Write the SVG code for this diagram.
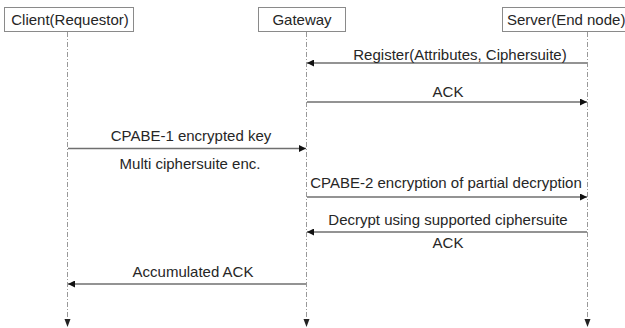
<svg xmlns="http://www.w3.org/2000/svg" width="625" height="328" viewBox="0 0 625 328">
<defs>
<style>
.box{fill:#fff;stroke:#8a8a8a;stroke-width:1}
.lbl{font-family:"Liberation Sans",Arial,sans-serif;font-size:15px;fill:#262626}
.life{stroke:#999;stroke-width:1;stroke-dasharray:5,2,1,2;fill:none}
.msg{stroke:#6f6f6f;stroke-width:1.5;fill:none}
.end{fill:#222}
</style>
<marker id="ah" viewBox="0 0 10 10" refX="10" refY="5" markerWidth="9" markerHeight="7" markerUnits="userSpaceOnUse" orient="auto">
<path d="M0,0 L10,5 L0,10 z" fill="#111"/>
</marker>
</defs>
<rect width="625" height="328" fill="#fff"/>
<g id="client">
<rect class="box" x="4.5" y="7.5" width="129" height="24"/>
<text class="lbl" x="70" y="25" text-anchor="middle">Client(Requestor)</text>
<line class="life" x1="67.5" y1="32" x2="67.5" y2="318"/>
<path class="end" d="M64.5,319 L70.5,319 L67.5,327 z"/>
</g>
<g id="gateway">
<rect class="box" x="258.5" y="7.5" width="87" height="24"/>
<text class="lbl" x="302" y="25" text-anchor="middle">Gateway</text>
<line class="life" x1="306.5" y1="32" x2="306.5" y2="318"/>
<path class="end" d="M303.5,319 L309.5,319 L306.5,327 z"/>
</g>
<g id="server">
<rect class="box" x="502.5" y="7.5" width="130" height="24"/>
<text class="lbl" x="507" y="25">Server(End node)</text>
<line class="life" x1="587.5" y1="32" x2="587.5" y2="318"/>
<path class="end" d="M584.5,319 L590.5,319 L587.5,327 z"/>
</g>
<g id="connectors">
<line class="msg" x1="587" y1="63" x2="307" y2="63" marker-end="url(#ah)"/>
<text class="lbl" x="460" y="59.5" text-anchor="middle">Register(Attributes, Ciphersuite)</text>
<line class="msg" x1="307" y1="102" x2="587" y2="102" marker-end="url(#ah)"/>
<text class="lbl" x="448" y="97" text-anchor="middle">ACK</text>
<line class="msg" x1="68" y1="148.5" x2="306" y2="148.5" marker-end="url(#ah)"/>
<text class="lbl" x="191" y="141" text-anchor="middle">CPABE-1 encrypted key</text>
<text class="lbl" x="190" y="169" text-anchor="middle">Multi ciphersuite enc.</text>
<line class="msg" x1="307" y1="197" x2="587" y2="197" marker-end="url(#ah)"/>
<text class="lbl" x="446" y="187.5" text-anchor="middle">CPABE-2 encryption of partial decryption</text>
<line class="msg" x1="587" y1="232" x2="307" y2="232" marker-end="url(#ah)"/>
<text class="lbl" x="448" y="225" text-anchor="middle">Decrypt using supported ciphersuite</text>
<text class="lbl" x="448" y="248" text-anchor="middle">ACK</text>
<line class="msg" x1="306" y1="284" x2="68" y2="284" marker-end="url(#ah)"/>
<text class="lbl" x="193" y="277" text-anchor="middle">Accumulated ACK</text>
</g>
</svg>
